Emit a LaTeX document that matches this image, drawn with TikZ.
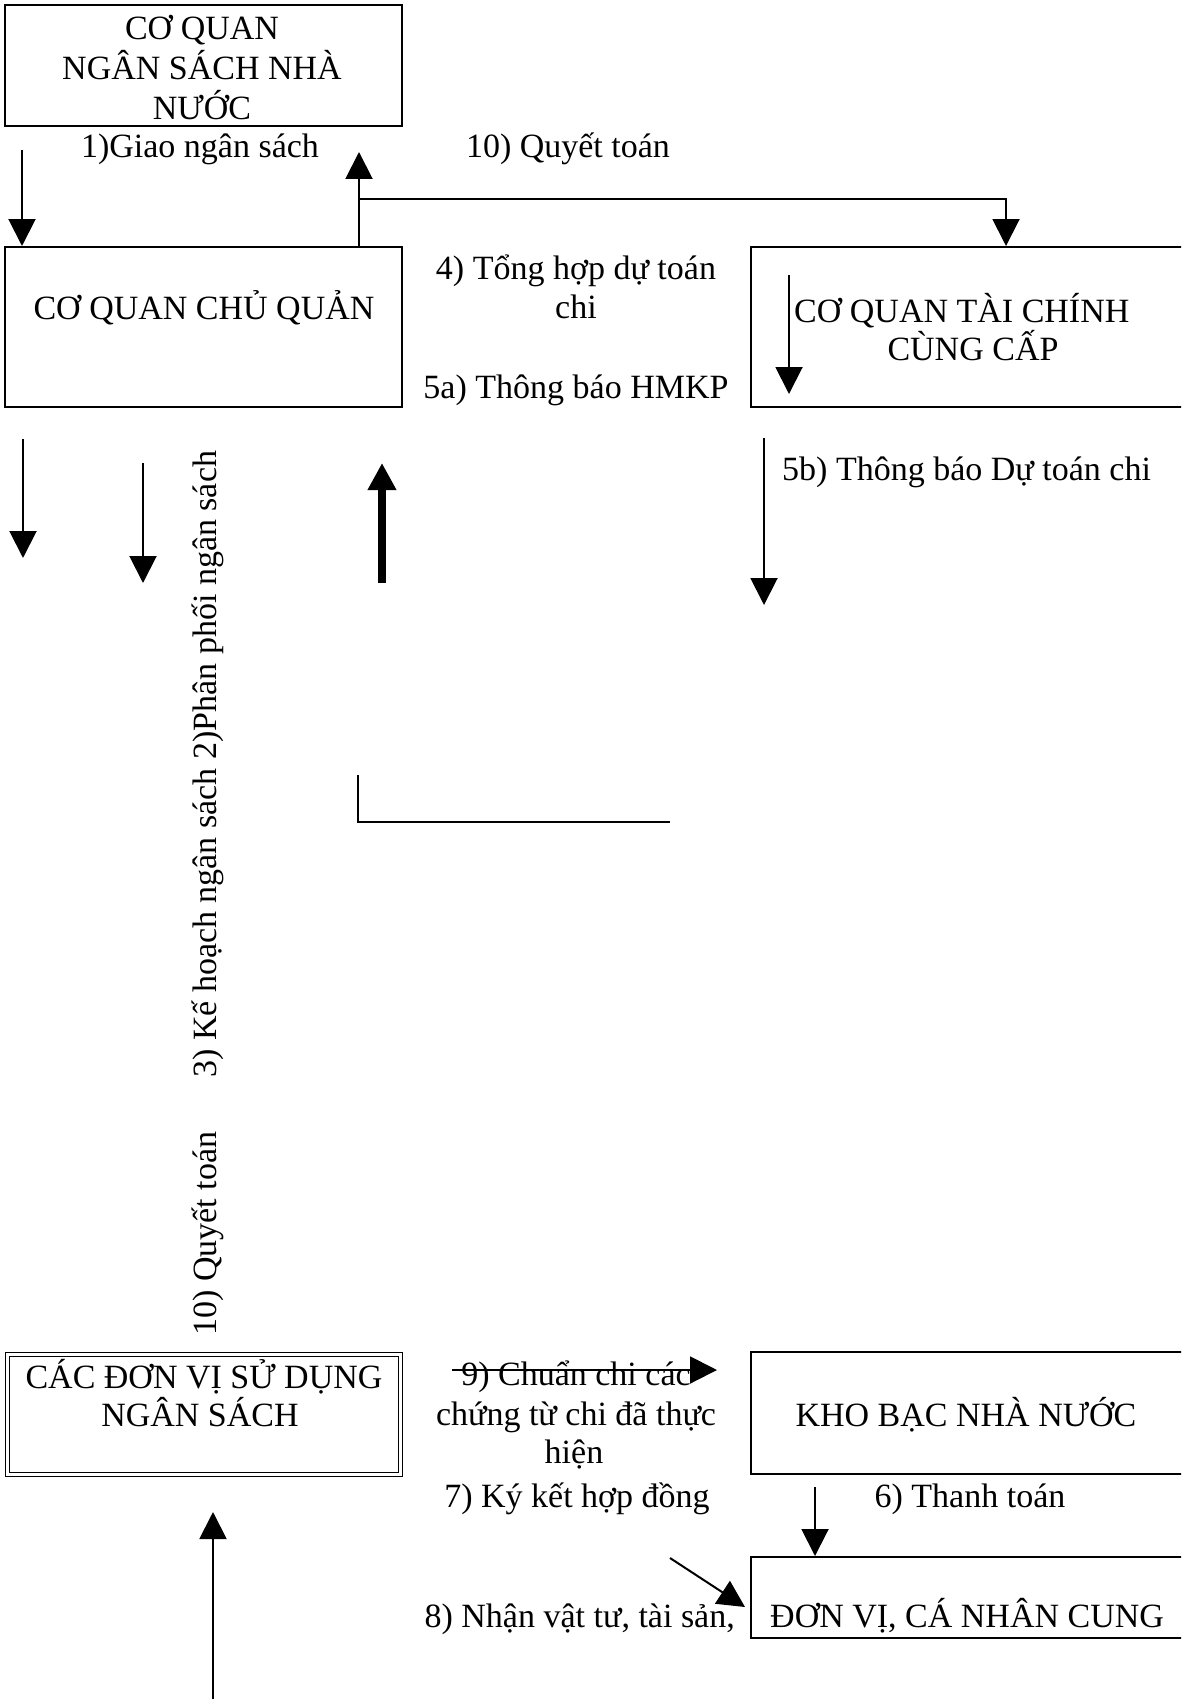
\documentclass[tikz,border=0pt]{standalone}
\usepackage{fontspec}
\setmainfont{Liberation Serif}
\usetikzlibrary{arrows.meta}
\newcommand\fsz{\fontsize{34pt}{40pt}\selectfont}
\begin{document}
\begin{tikzpicture}[x=1pt,y=-1pt,
  box/.style={draw, line width=2pt, rectangle, inner sep=0pt},
  lbl/.style={inner sep=0pt, font=\fsz},
  arr/.style={line width=2pt, -{Triangle[width=27pt,length=27pt]}},
  thickarr/.style={line width=8pt, -{Triangle[width=27pt,length=27pt]}},
  plainline/.style={line width=2pt}]
\fill[white] (0,0) rectangle (1181,1699);
\useasboundingbox (0,0) rectangle (1181,1699);
\clip (0,0) rectangle (1181,1699);

% boxes
\node[box, minimum width=397pt, minimum height=121pt] (nsnn) at (203.5,65.5) {};
\node[box, minimum width=397pt, minimum height=160pt] (cqcq) at (203.5,327) {};
\node[box, minimum width=449pt, minimum height=160pt] (tccc) at (975.5,327) {};
\node[box, double, line width=1pt, double distance=3pt, minimum width=393pt, minimum height=120pt] (dvsd) at (204,1414.5) {};
\node[box, minimum width=449pt, minimum height=122pt] (kbnn) at (975.5,1413) {};
\node[box, minimum width=449pt, minimum height=81pt] (dvcn) at (975.5,1597.5) {};

% texts
\node[lbl, anchor=base] (t1a) at (202,40) {CƠ QUAN};
\node[lbl, anchor=base] (t1b) at (202,80) {NGÂN SÁCH NHÀ};
\node[lbl, anchor=base] (t1c) at (202,120) {NƯỚC};
\node[lbl, anchor=base] (l1) at (200,158) {1)Giao ngân sách};
\node[lbl, anchor=base] (l10) at (568,158) {10) Quyết toán};
\node[lbl, anchor=base] (t2) at (204,319) {CƠ QUAN CHỦ QUẢN};
\node[lbl, anchor=base] (l4a) at (576,279) {4) Tổng hợp dự toán};
\node[lbl, anchor=base] (l4b) at (576,318) {chi};
\node[lbl, anchor=base] (l5a) at (576,398) {5a) Thông báo HMKP};
\node[lbl, anchor=base west] (t3a) at (794,322) {CƠ QUAN TÀI CHÍNH};
\node[lbl, anchor=base] (t3b) at (973,360) {CÙNG CẤP};
\node[lbl, anchor=base west] (l5b) at (782,480) {5b) Thông báo Dự toán chi};
\node[lbl, anchor=base west, rotate=90] (l23) at (216,1078) {3) Kế hoạch ngân sách 2)Phân phối ngân sách};
\node[lbl, anchor=base west, rotate=90] (l10b) at (216,1336) {10) Quyết toán};
\node[lbl, anchor=base] (t4a) at (204,1388) {CÁC ĐƠN VỊ SỬ DỤNG};
\node[lbl, anchor=base] (t4b) at (200,1426) {NGÂN SÁCH};
\node[lbl, anchor=base] (l9a) at (576,1385) {9) Chuẩn chi các};
\node[lbl, anchor=base] (l9b) at (576,1425) {chứng từ chi đã thực};
\node[lbl, anchor=base] (l9c) at (574,1463) {hiện};
\node[lbl, anchor=base] (tkb) at (966,1426) {KHO BẠC NHÀ NƯỚC};
\node[lbl, anchor=base] (l7) at (577,1507) {7) Ký kết hợp đồng};
\node[lbl, anchor=base] (l6) at (970,1507) {6) Thanh toán};
\node[lbl, anchor=base west] (tdv) at (770,1627) {ĐƠN VỊ, CÁ NHÂN CUNG};
\node[lbl, anchor=base east] (l8) at (735,1627) {8) Nhận vật tư, tài sản,};

% connectors
\coordinate (c1) at (22,150);
\draw[arr] (c1) -- (c1 |- cqcq.north);
\coordinate (c10) at (359,152);
\draw[arr] (c10 |- cqcq.north) -- (c10);
\coordinate (c4) at (359,199);
\coordinate (c4e) at (1006,199);
\draw[arr] (c4) -- (c4e) -- (c4e |- tccc.north);
\coordinate (c5s) at (789,275);
\coordinate (c5e) at (789,394);
\draw[arr] (c5s) -- (c5e);
\coordinate (d1s) at (23,439);
\coordinate (d1e) at (23,558);
\draw[arr] (d1s) -- (d1e);
\coordinate (d2s) at (143,463);
\coordinate (d2e) at (143,583);
\draw[arr] (d2s) -- (d2e);
\coordinate (d3s) at (382,583);
\coordinate (d3e) at (382,463);
\draw[thickarr] (d3s) -- (d3e);
\coordinate (d5s) at (764,438);
\coordinate (d5e) at (764,605);
\draw[arr] (d5s) -- (d5e);
\coordinate (la) at (358,775);
\coordinate (lb) at (358,822);
\coordinate (lc) at (670,822);
\draw[plainline] (la) -- (lb) -- (lc);
\coordinate (u1s) at (213,1705);
\coordinate (u1e) at (213,1512);
\draw[arr] (u1s) -- (u1e);
\coordinate (n9s) at (452,1370);
\coordinate (n9e) at (717,1370);
\draw[arr] (n9s) -- (n9e);
\coordinate (n6s) at (815,1487);
\draw[arr] (n6s) -- (n6s |- dvcn.north);
\coordinate (n8s) at (670,1558);
\coordinate (n8e) at (745,1607);
\draw[arr] (n8s) -- (n8e);
\end{tikzpicture}
\end{document}
